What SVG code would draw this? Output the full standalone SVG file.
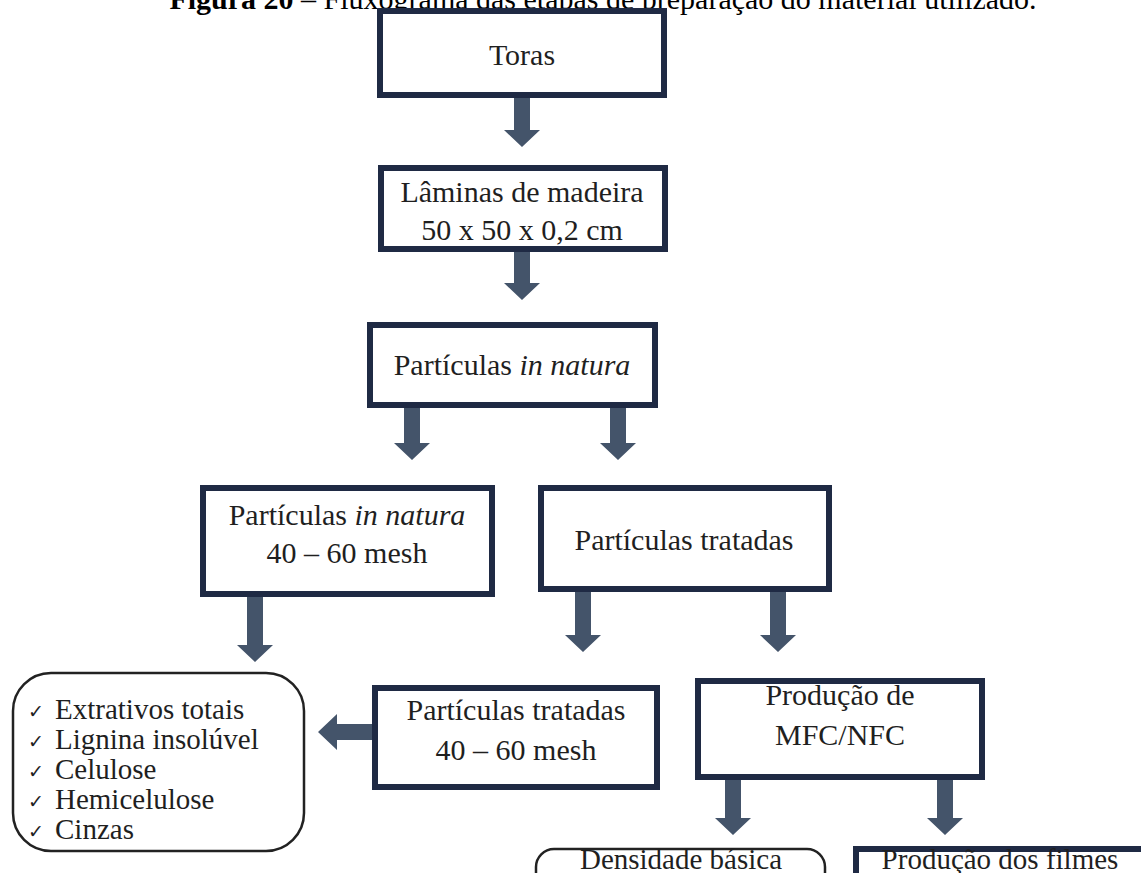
<svg xmlns="http://www.w3.org/2000/svg" width="1141" height="873" viewBox="0 0 1141 873">
<style>
.bg{fill:#ffffff}
.box{fill:#ffffff;stroke:#1f2a44;stroke-width:6}
.rbox{fill:#ffffff;stroke:#222222;stroke-width:2.5}
.arr{fill:#44546a}
.t{font-family:"Liberation Serif","Times New Roman",serif;font-size:30px;fill:#1f1f1f;text-anchor:middle}
.tb{font-family:"Liberation Serif","Times New Roman",serif;font-size:29px;fill:#1f1f1f;text-anchor:middle}
.l{font-family:"Liberation Serif","Times New Roman",serif;font-size:29px;fill:#1f1f1f}
.ck{font-family:"DejaVu Sans",sans-serif;font-size:19px;fill:#1f1f1f}
.cap{font-family:"Liberation Serif","Times New Roman",serif;font-size:30px;fill:#000000;text-anchor:middle}
</style>
<rect class="bg" x="0" y="0" width="1141" height="873"/>
<text class="cap" x="603" y="9"><tspan font-weight="bold">Figura 20</tspan> – Fluxograma das etapas de preparação do material utilizado.</text>

<g id="connectors">
<path class="arr" d="M514,98 H530 V130 H540 L522,147 L504,130 H514 Z"/>
<path class="arr" d="M514,252 H530 V283 H540 L522,300 L504,283 H514 Z"/>
<path class="arr" d="M404,408 H420 V443 H430 L412,460 L394,443 H404 Z"/>
<path class="arr" d="M610,408 H626 V443 H636 L618,460 L600,443 H610 Z"/>
<path class="arr" d="M247,597 H263 V645 H273 L255,662 L237,645 H247 Z"/>
<path class="arr" d="M575,592 H591 V635 H601 L583,652 L565,635 H575 Z"/>
<path class="arr" d="M770,592 H786 V635 H796 L778,652 L760,635 H770 Z"/>
<path class="arr" d="M372,724 V740 H337 V750 L318,732 L337,714 V724 Z"/>
<path class="arr" d="M725,780 H741 V818 H751 L733,835 L715,818 H725 Z"/>
<path class="arr" d="M937,780 H953 V818 H963 L945,835 L927,818 H937 Z"/>
</g>

<g id="toras">
<rect class="box" x="380" y="11" width="284" height="84"/>
<text class="t" x="522" y="65">Toras</text>
</g>

<g id="laminas">
<rect class="box" x="381" y="168" width="284" height="81"/>
<text class="t" x="522" y="202">Lâminas de madeira</text>
<text class="t" x="522" y="240">50 x 50 x 0,2 cm</text>
</g>

<g id="particulas-in-natura">
<rect class="box" x="370" y="325" width="285" height="80"/>
<text class="t" x="512" y="375">Partículas <tspan font-style="italic">in natura</tspan></text>
</g>

<g id="particulas-in-natura-mesh">
<rect class="box" x="203" y="488" width="289" height="106"/>
<text class="t" x="347" y="525">Partículas <tspan font-style="italic">in natura</tspan></text>
<text class="t" x="347" y="563">40 – 60 mesh</text>
</g>

<g id="particulas-tratadas">
<rect class="box" x="541" y="488" width="288" height="101"/>
<text class="t" x="684" y="550">Partículas tratadas</text>
</g>

<g id="analises">
<rect class="rbox" x="13" y="673" width="291" height="178" rx="38" ry="38"/>
<text class="ck" x="28" y="718">✓</text>
<text class="l" x="55" y="719">Extrativos  totais</text>
<text class="ck" x="28" y="748">✓</text>
<text class="l" x="55" y="749">Lignina  insolúvel</text>
<text class="ck" x="28" y="778">✓</text>
<text class="l" x="55" y="779">Celulose</text>
<text class="ck" x="28" y="808">✓</text>
<text class="l" x="55" y="809">Hemicelulose</text>
<text class="ck" x="28" y="838">✓</text>
<text class="l" x="55" y="839">Cinzas</text>
</g>

<g id="particulas-tratadas-mesh">
<rect class="box" x="375" y="688" width="282" height="99"/>
<text class="t" x="516" y="720">Partículas tratadas</text>
<text class="t" x="516" y="760">40 – 60 mesh</text>
</g>

<g id="producao-mfc">
<rect class="box" x="698" y="681" width="284" height="96"/>
<text class="t" x="840" y="705">Produção de</text>
<text class="t" x="840" y="745">MFC/NFC</text>
</g>

<g id="densidade">
<rect class="rbox" x="536" y="849" width="289" height="60" rx="18" ry="18"/>
<text class="tb" x="681" y="869">Densidade básica</text>
</g>

<g id="producao-filmes">
<rect class="box" x="856" y="849" width="300" height="60"/>
<text class="tb" x="1000" y="869">Produção dos filmes</text>
</g>
</svg>
